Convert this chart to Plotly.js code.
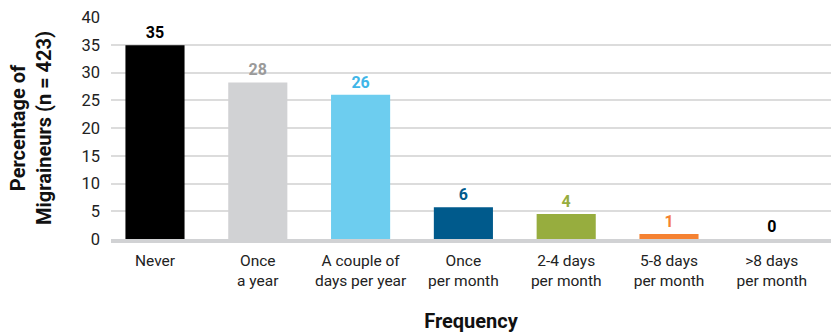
<!DOCTYPE html>
<html>
<head>
<meta charset="utf-8">
<script src="https://cdn.plot.ly/plotly-3.0.1.min.js"></script>
<style>html,body{margin:0;padding:0;background:#fff;}#chart{width:831px;height:333px;}</style>
</head>
<body>
<div id="chart"></div>
<script>
const categories = ["Never", "Once<br>a year", "A couple of<br>days per year", "Once<br>per month", "2-4 days<br>per month", "5-8 days<br>per month", ">8 days<br>per month"];
const values = [34.9, 28.2, 26.0, 5.7, 4.5, 0.9, 0];
const valueLabels = ["35", "28", "26", "6", "4", "1", "0"];
const barColors = ["#000000", "#d1d2d4", "#6dcdef", "#005a8c", "#97ad3e", "#f58232", "#000000"];
const labelColors = ["#000000", "#9a9a9a", "#3fb6e8", "#005a8c", "#97ad3e", "#f58232", "#000000"];
const yTicks = [0, 5, 10, 15, 20, 25, 30, 35, 40];

const FONT = "Roboto, 'Liberation Sans', sans-serif";

const trace = {
  type: "bar",
  x: categories.map((c, i) => i),
  y: values,
  width: 0.575,
  marker: {color: barColors, line: {width: 0}},
  text: valueLabels,
  textposition: "outside",
  textfont: {family: FONT, size: 16, color: labelColors, weight: "bold"},
  cliponaxis: false,
  hoverinfo: "skip"
};

const layout = {
  width: 831,
  height: 333,
  margin: {l: 111, r: 0, t: 17, b: 94, pad: 0},
  paper_bgcolor: "#ffffff",
  plot_bgcolor: "#ffffff",
  showlegend: false,
  bargap: 0.4,
  font: {family: FONT, size: 15, color: "#222222"},
  xaxis: {
    range: [-0.428, 6.576],
    tickmode: "array",
    tickvals: categories.map((c, i) => i),
    ticktext: categories,
    tickfont: {family: FONT, size: 15.5, color: "#222222"},
    showgrid: false,
    zeroline: false,
    showline: true,
    linecolor: "#d1d2d4",
    linewidth: 4,
    ticks: "",
    ticklabelstandoff: 4,
    title: {text: "Frequency", font: {family: FONT, size: 20, color: "#111111", weight: "bold"}, standoff: 28},
    fixedrange: true
  },
  yaxis: {
    range: [0, 40],
    tickmode: "array",
    tickvals: yTicks,
    tickfont: {family: FONT, size: 16.5, color: "#222222"},
    showgrid: true,
    gridcolor: "#dcdcdc",
    gridwidth: 2,
    zeroline: false,
    showline: false,
    ticks: "",
    ticklabelstandoff: 10,
    title: {text: "Percentage of<br>Migraineurs (n = 423)", font: {family: FONT, size: 20, color: "#111111", weight: "bold"}, standoff: 24},
    fixedrange: true
  }
};

Plotly.newPlot("chart", [trace], layout, {displayModeBar: false, staticPlot: true});
</script>
</body>
</html>
